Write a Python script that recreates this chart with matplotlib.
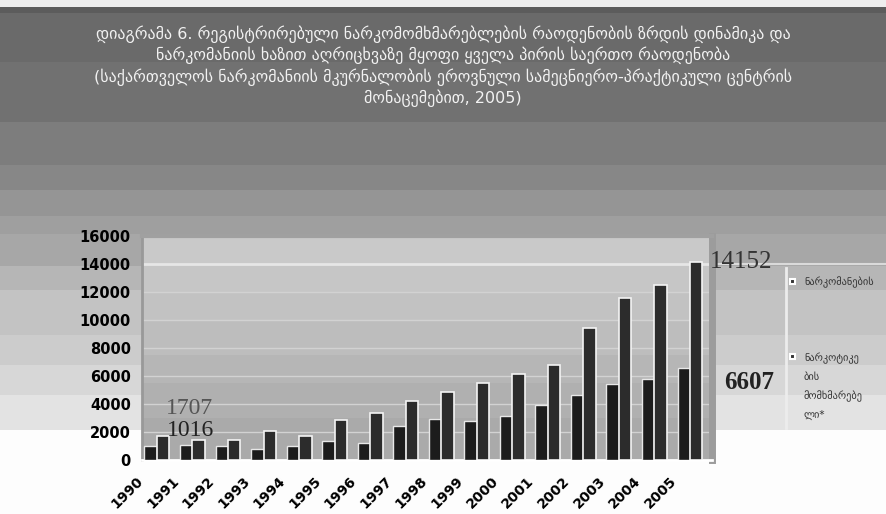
import matplotlib
matplotlib.use("Agg")
import matplotlib.pyplot as plt
from matplotlib.patches import Rectangle
import numpy as np

# yearly counts for the two groups
years = [str(y) for y in range(1990, 2006)]
addicts = [1016, 1050, 1000, 770, 1010, 1370, 1250, 2450, 2930, 2760, 3170, 3960, 4610, 5400, 5810, 6607]
users = [1707, 1450, 1420, 2090, 1730, 2860, 3340, 4200, 4850, 5500, 6130, 6770, 9420, 11580, 12470, 14152]
yticks = [0, 2000, 4000, 6000, 8000, 10000, 12000, 14000, 16000]

legend_1 = ["ნარკომანების"]
legend_2 = ["ნარკოტიკე", "ბის", "მომხმარებე", "ლი*"]

title_lines = [
    "დიაგრამა 6. რეგისტრირებული ნარკომომხმარებლების რაოდენობის ზრდის დინამიკა და",
    "ნარკომანიის ხაზით აღრიცხვაზე მყოფი ყველა პირის საერთო რაოდენობა",
    "(საქართველოს ნარკომანიის მკურნალობის ეროვნული სამეცნიერო-პრაქტიკული ცენტრის",
    "მონაცემებით, 2005)",
]

W, H = 886, 514


def px_x(x):
    return x / W


def px_y(y):
    return (H - y) / H


def draw_background(fig):
    # grey stepped background behind everything (pixel units, top down)
    bg = fig.add_axes([0, 0, 1, 1], zorder=-10)
    bg.set_xlim(0, W)
    bg.set_ylim(H, 0)
    bg.axis("off")
    bands = [(0, 7, "#eeeeee"), (7, 13, "#5c5c5c"), (13, 62, "#6a6a6a"),
             (62, 122, "#717171"), (122, 165, "#7d7d7d"), (165, 190, "#878787"),
             (190, 216, "#959595"), (216, 234, "#9f9f9f"), (234, 266, "#a7a7a7"),
             (266, 290, "#b6b6b6"), (290, 335, "#c3c3c3"), (335, 365, "#cccccc"),
             (365, 395, "#d7d7d7"), (395, 430, "#e3e3e3"), (430, 514, "#fdfdfd")]
    for y0, y1, c in bands:
        bg.axhspan(y0, y1, color=c, lw=0)
    # light rule running out from the 14000 gridline, and legend divider
    bg.plot([712, W], [264, 264], color="#dadada", lw=1.5)
    bg.plot([786, 786], [268, 428], color="#ececec", lw=2)
    return bg


fig = plt.figure(figsize=(W / 100, H / 100), dpi=100)
bg = draw_background(fig)

for i, line in enumerate(title_lines):
    fig.text(0.5, px_y(34 + i * 21.5), line, ha="center", va="center",
             fontsize=11.5, color="#f2f2f2", family="DejaVu Sans")

ax = fig.add_axes([px_x(142), px_y(460), px_x(712 - 142), (460 - 236) / H])
ax.set_xlim(-0.42, 15.62)
ax.set_ylim(0, 16000)
ax.set_facecolor("#b8b8b8")

# plot-area shading, lighter towards the top
shades = [(14000, 16000, "#c9c9c9"), (12000, 14000, "#c6c6c6"), (10000, 12000, "#c2c2c2"),
          (7500, 10000, "#bdbdbd"), (5500, 7500, "#b6b6b6"), (3000, 5500, "#b0b0b0"),
          (0, 3000, "#aaaaaa")]
for y0, y1, c in shades:
    ax.axhspan(y0, y1, color=c, lw=0, zorder=0)
for t in yticks[1:-1]:
    ax.axhline(t, color="#e6e6e6" if t == 14000 else "#d2d2d2",
               lw=2 if t == 14000 else 1, zorder=1)

x = np.arange(len(years))
w = 0.35
ax.bar(x - w / 2, addicts, w, color="#1c1c1c", edgecolor="#e8e8e8", lw=1.0, zorder=3)
ax.bar(x + w / 2, users, w, color="#2c2c2c", edgecolor="#f4f4f4", lw=1.2, zorder=3)

# value labels on the first and last years
ax.annotate(str(users[0]), (x[0] + w / 2, users[0]), xytext=(19, 20), textcoords="offset points",
            ha="center", va="center", fontsize=17, color="#555555", family="Liberation Serif",
            annotation_clip=False, zorder=5)
ax.annotate(str(addicts[0]), (x[0] - w / 2, addicts[0]), xytext=(29, 11), textcoords="offset points",
            ha="center", va="center", fontsize=17, color="#222222", family="Liberation Serif",
            annotation_clip=False, zorder=5)
ax.annotate(str(users[-1]), (x[-1] + w / 2, users[-1]), xytext=(32, 0), textcoords="offset points",
            ha="center", va="center", fontsize=18, color="#333333", family="Liberation Serif",
            annotation_clip=False, zorder=5)
ax.annotate(str(addicts[-1]), (x[-1] - w / 2, addicts[-1]), xytext=(47, -11), textcoords="offset points",
            ha="center", va="center", fontsize=18, color="#222222", family="Liberation Serif",
            fontweight="bold", annotation_clip=False, zorder=5)

ax.set_yticks(yticks)
ax.set_yticklabels([str(t) for t in yticks], fontsize=10.5, fontweight="bold")
ax.set_xticks(x)
ax.set_xticklabels([])
# slanted year labels, set left of each group
for xi, yr in zip(x, years):
    ax.annotate(yr, (xi, 0), xycoords=("data", "axes fraction"), xytext=(-15, -10),
                textcoords="offset points", rotation=45, ha="right", va="top",
                rotation_mode="anchor", fontsize=10, fontweight="bold", annotation_clip=False)
ax.tick_params(length=0)
ax.tick_params(axis="y", pad=8)

ax.spines["left"].set_color("#999999")
ax.spines["left"].set_linewidth(2)
ax.spines["top"].set_color("#a0a0a0")
ax.spines["top"].set_linewidth(3)
ax.spines["right"].set_color("#9c9c9c")
ax.spines["right"].set_linewidth(5)
ax.spines["bottom"].set_color("white")
ax.spines["bottom"].set_linewidth(2)

# legend drawn by hand at the right edge
bg.add_patch(Rectangle((790, 279), 5, 5, facecolor="#333333", edgecolor="white", lw=1.5))
bg.add_patch(Rectangle((790, 354), 5, 5, facecolor="#333333", edgecolor="white", lw=1.5))
for i, s in enumerate(legend_1):
    bg.text(804, 282 + i * 19, s, fontsize=7.5, color="#333333", va="center")
for i, s in enumerate(legend_2):
    bg.text(804, 358 + i * 19, s, fontsize=7.5, color="#333333", va="center")

fig.savefig("out.png", dpi=100)
